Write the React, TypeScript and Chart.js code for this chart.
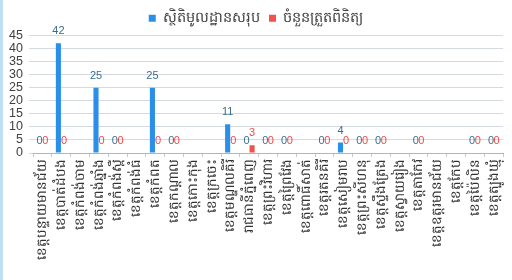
import React, { useEffect, useRef } from "react";
import { Chart, registerables } from "chart.js";

Chart.register(...registerables);

const categories = [
  "ខេត្តបន្ទាយមានជ័យ",
  "ខេត្តបាត់ដំបង",
  "ខេត្តកំពង់ចាម",
  "ខេត្តកំពង់ឆ្នាំង",
  "ខេត្តកំពង់ស្ពឺ",
  "ខេត្តកំពង់ធំ",
  "ខេត្តកំពត",
  "ខេត្តកណ្ដាល",
  "ខេត្តកោះកុង",
  "ខេត្តក្រចេះ",
  "ខេត្តមណ្ឌលគិរី",
  "រាជធានីភ្នំពេញ",
  "ខេត្តព្រះវិហារ",
  "ខេត្តព្រៃវែង",
  "ខេត្តពោធិ៍សាត់",
  "ខេត្តរតនគិរី",
  "ខេត្តសៀមរាប",
  "ខេត្តព្រះសីហនុ",
  "ខេត្តស្ទឹងត្រែង",
  "ខេត្តស្វាយរៀង",
  "ខេត្តតាកែវ",
  "ខេត្តឧត្ដរមានជ័យ",
  "ខេត្តកែប",
  "ខេត្តប៉ៃលិន",
  "ខេត្តត្បូងឃ្មុំ",
];

const seriesNames = ["ស្ថិតិមូលដ្ឋានសរុប", "ចំនួនត្រួតពិនិត្យ"];

const totalValues = [0, 42, null, 25, 0, null, 25, 0, null, null, 11, 0, 0, 0, null, 0, 4, 0, 0, null, 0, null, null, 0, 0];
const inspectedValues = [0, 0, null, 0, 0, null, 0, 0, null, null, 0, 3, 0, 0, null, 0, 0, 0, 0, null, 0, null, null, 0, 0];

const yTicks = [0, 5, 10, 15, 20, 25, 30, 35, 40, 45];

const labelColors = ["#3b6f8f", "#ee4a4a"];

const valueLabelPlugin = {
  id: "valueLabels",
  afterDatasetsDraw(chart: any) {
    const ctx = chart.ctx;
    ctx.save();
    ctx.font = "11px 'Liberation Sans', 'Open Sans', sans-serif";
    ctx.textAlign = "center";
    ctx.textBaseline = "middle";
    chart.data.datasets.forEach((ds: any, di: number) => {
      const meta = chart.getDatasetMeta(di);
      meta.data.forEach((el: any, i: number) => {
        const v = ds.data[i];
        if (v === null || v === undefined) return;
        ctx.fillStyle = labelColors[di];
        ctx.fillText(String(v), el.x, el.y - 12);
      });
    });
    ctx.restore();
  },
};

export default function App() {
  const ref = useRef<HTMLCanvasElement | null>(null);
  useEffect(() => {
    if (!ref.current) return;
    const chart = new Chart(ref.current, {
      type: "bar",
      data: {
        labels: categories,
        datasets: [
          {
            label: seriesNames[0],
            data: totalValues,
            backgroundColor: "#2a8fe8",
            borderWidth: 0,
            categoryPercentage: 0.6,
            barPercentage: 0.9,
          },
          {
            label: seriesNames[1],
            data: inspectedValues,
            backgroundColor: "#f2524c",
            borderWidth: 0,
            categoryPercentage: 0.6,
            barPercentage: 0.9,
          },
        ],
      },
      options: {
        animation: false,
        responsive: false,
        layout: { padding: { top: 2, right: 2, left: 2, bottom: 0 } },
        plugins: {
          legend: {
            position: "top",
            labels: {
              boxWidth: 7,
              boxHeight: 7,
              color: "#404040",
              padding: 9,
              font: { size: 14.5, family: "'Noto Sans', sans-serif" },
            },
          },
          tooltip: { enabled: false },
        },
        scales: {
          x: {
            ticks: {
              autoSkip: false,
              minRotation: 90,
              maxRotation: 90,
              color: "#333333",
              font: { size: 13.5, family: "'Noto Sans', sans-serif" },
              padding: 2,
            },
            grid: {
              drawOnChartArea: false,
              drawTicks: true,
              tickLength: 4,
              color: "#c4cbd8",
            },
            border: { color: "#aab6c8" },
            afterFit: (s: any) => {
              s.height = 127;
            },
          },
          y: {
            min: 0,
            max: 45,
            afterBuildTicks: (s: any) => {
              s.ticks = yTicks.map((v) => ({ value: v }));
            },
            ticks: {
              autoSkip: false,
              color: "#404040",
              font: { size: 12.5, family: "'Liberation Sans', sans-serif" },
              padding: 6,
            },
            grid: { color: "#d5d9e3", tickLength: 4 },
            border: { display: false },
            afterFit: (s: any) => {
              s.width = 31;
            },
          },
        },
      },
      plugins: [valueLabelPlugin],
    });
    return () => chart.destroy();
  }, []);
  return (
    <div style={{ position: "absolute", left: 0, top: 0, width: 512, height: 280, background: "#ffffff" }}>
      <div style={{ position: "absolute", left: 0, top: 0, width: 3, height: 280, background: "#bfe0f4" }} />
      <canvas ref={ref} width={512} height={280} style={{ position: "absolute", left: 0, top: 0 }} />
    </div>
  );
}
